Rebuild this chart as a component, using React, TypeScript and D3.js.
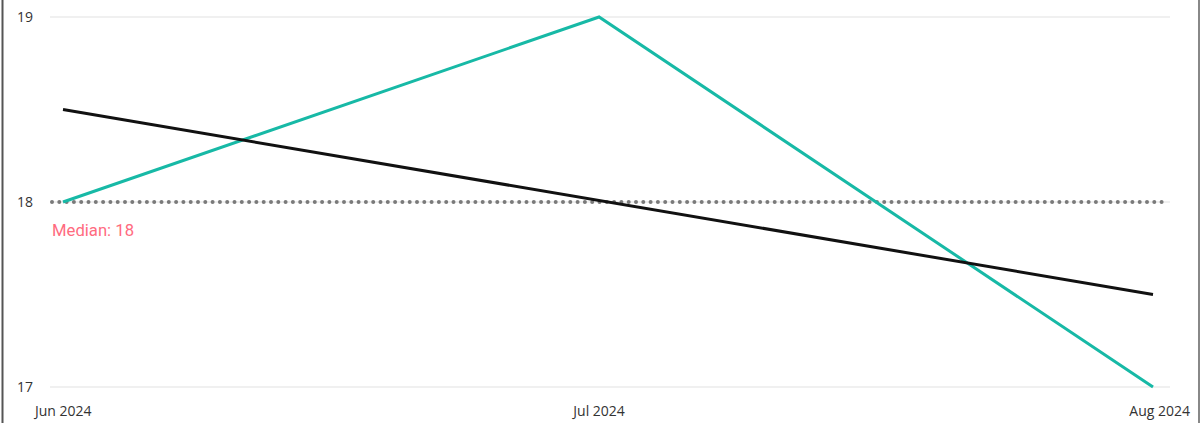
import { useEffect, useRef } from "react";
import * as d3 from "d3";

const months = ["Jun 2024", "Jul 2024", "Aug 2024"];
const monthDates = ["2024-06-01", "2024-07-01", "2024-08-01"];
const values = [18, 19, 17];
const yTicks = [17, 18, 19];
const median = 18;

function LineChart() {
  const ref = useRef<SVGSVGElement>(null);
  const width = 1204;
  const height = 423;

  useEffect(() => {
    const svg = d3.select(ref.current);
    svg.selectAll("*").remove();

    const dates = monthDates.map((d) => new Date(d + "T00:00:00Z"));
    const x = d3
      .scaleUtc()
      .domain([dates[0], dates[dates.length - 1]])
      .range([63, 1153]);
    const y = d3.scaleLinear().domain([17, 19]).range([387, 17]);

    // frame edges
    svg.append("line").attr("x1", 2.5).attr("x2", 2.5).attr("y1", 0).attr("y2", height)
      .attr("stroke", "#555").attr("stroke-width", 2);
    svg.append("line").attr("x1", 1199).attr("x2", 1199).attr("y1", 0).attr("y2", height)
      .attr("stroke", "#888").attr("stroke-width", 2);

    // grid
    svg.append("g")
      .selectAll("line")
      .data(yTicks)
      .join("line")
      .attr("x1", 50)
      .attr("x2", 1170)
      .attr("y1", (d) => y(d))
      .attr("y2", (d) => y(d))
      .attr("stroke", "#ebebeb")
      .attr("stroke-width", 1.5);

    svg.append("g")
      .selectAll("text")
      .data(yTicks)
      .join("text")
      .attr("x", 17)
      .attr("y", (d) => y(d))
      .attr("dy", "0.35em")
      .attr("font-family", "'Open Sans', 'DejaVu Sans', sans-serif")
      .attr("font-size", 14)
      .attr("fill", "#333")
      .text((d) => d);

    // x labels
    svg.append("g")
      .selectAll("text")
      .data(months)
      .join("text")
      .attr("x", (d, i) => (i === 0 ? 35 : i === months.length - 1 ? 1190 : x(dates[i])))
      .attr("y", 411)
      .attr("dy", "0.35em")
      .attr("text-anchor", (d, i) => (i === 0 ? "start" : i === months.length - 1 ? "end" : "middle"))
      .attr("font-family", "'Open Sans', 'DejaVu Sans', sans-serif")
      .attr("font-size", 14)
      .attr("fill", "#333")
      .text((d) => d);

    // median line
    svg.append("line")
      .attr("x1", 52)
      .attr("x2", 1166)
      .attr("y1", y(median))
      .attr("y2", y(median))
      .attr("stroke", "#7a7a7a")
      .attr("stroke-width", 4)
      .attr("stroke-linecap", "round")
      .attr("stroke-dasharray", "0 7.3");

    svg.append("text")
      .attr("x", 52)
      .attr("y", 230)
      .attr("dy", "0.35em")
      .attr("font-family", "'Roboto', 'Liberation Sans', sans-serif")
      .attr("font-size", 16)
      .attr("textLength", 82)
      .attr("lengthAdjust", "spacingAndGlyphs")
      .attr("fill", "#ff6b7f")
      .text(`Median: ${median}`);

    // series
    const line = d3
      .line<number>()
      .x((_, i) => x(dates[i]))
      .y((d) => y(d));

    svg.append("path")
      .datum(values)
      .attr("d", line)
      .attr("fill", "none")
      .attr("stroke", "#17b9a6")
      .attr("stroke-width", 3);

    // linear trend over the month index
    const n = values.length;
    const xs = d3.range(n);
    const mx = d3.mean(xs)!;
    const my = d3.mean(values)!;
    const slope =
      d3.sum(xs, (xi, i) => (xi - mx) * (values[i] - my)) /
      d3.sum(xs, (xi) => (xi - mx) ** 2);
    const trend = [my + slope * (0 - mx), my + slope * (n - 1 - mx)];

    svg.append("line")
      .attr("x1", x(dates[0]))
      .attr("x2", x(dates[n - 1]))
      .attr("y1", y(trend[0]))
      .attr("y2", y(trend[1]))
      .attr("stroke", "#111")
      .attr("stroke-width", 3);
  }, []);

  return (
    <svg
      ref={ref}
      width={width}
      height={height}
      style={{ position: "absolute", left: 0, top: 0, background: "#fff" }}
    />
  );
}

export default function App() {
  return <LineChart />;
}
